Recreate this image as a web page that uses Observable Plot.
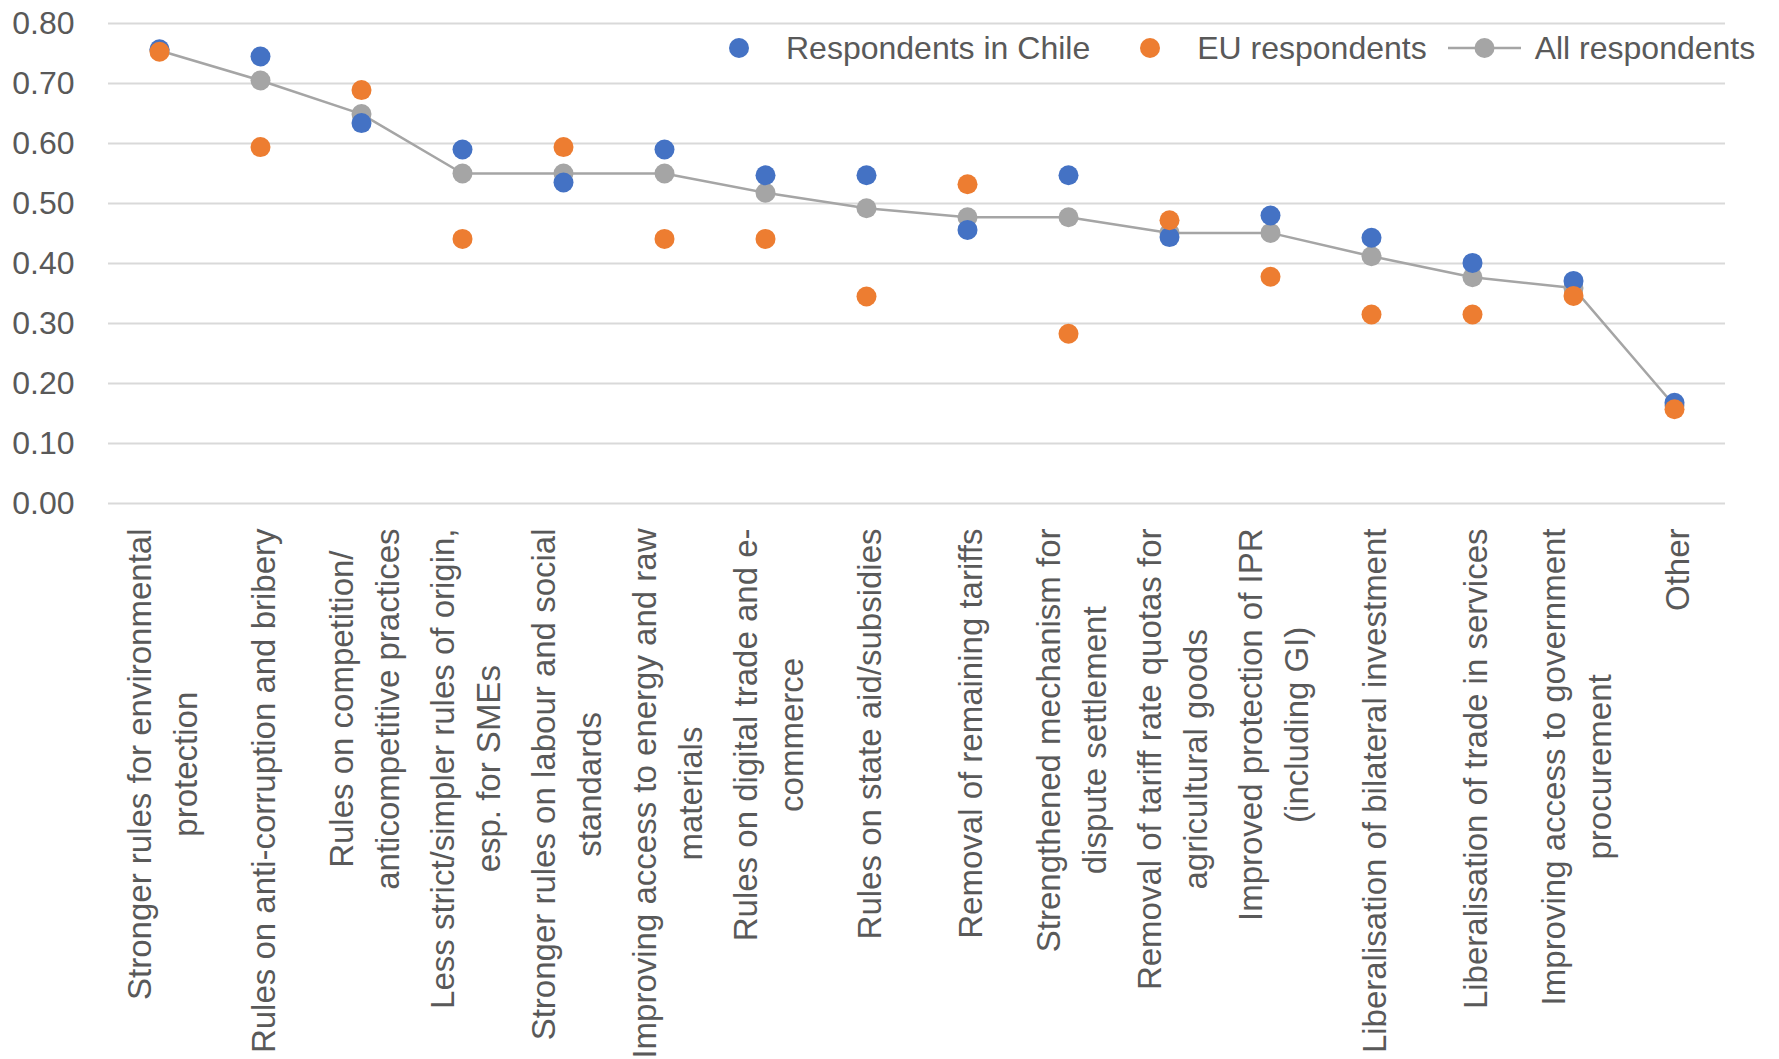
<!DOCTYPE html>
<html><head><meta charset="utf-8">
<script src="https://cdn.jsdelivr.net/npm/d3@7"></script>
<script src="https://cdn.jsdelivr.net/npm/@observablehq/plot@0.6"></script>
<style>
body{margin:0;background:#fff;}
#wrap{position:relative;width:1779px;height:1059px;font-family:"Liberation Sans",Arial,sans-serif;color:#595959;background:#fff;}
#legend{position:absolute;top:28px;left:729px;display:flex;align-items:center;font-size:32px;line-height:40px;white-space:nowrap;}
.ldot{display:inline-block;width:20px;height:20px;border-radius:50%;}
</style></head><body>
<div id="wrap"><div id="chart"></div><div id="legend"></div></div>
<script>
const categories = [
  "Stronger rules for environmental protection",
  "Rules on anti-corruption and bribery",
  "Rules on competition/ anticompetitive practices",
  "Less strict/simpler rules of origin, esp. for SMEs",
  "Stronger rules on labour and social standards",
  "Improving access to energy and raw materials",
  "Rules on digital trade and e-commerce",
  "Rules on state aid/subsidies",
  "Removal of remaining tariffs",
  "Strengthened mechanism for dispute settlement",
  "Removal of tariff rate quotas for agricultural goods",
  "Improved protection of IPR (including GI)",
  "Liberalisation of bilateral investment",
  "Liberalisation of trade in services",
  "Improving access to government procurement",
  "Other"
];
const tickLabels = [
  "Stronger rules for environmental\nprotection",
  "Rules on anti-corruption and bribery",
  "Rules on competition/\nanticompetitive practices",
  "Less strict/simpler rules of origin,\nesp. for SMEs",
  "Stronger rules on labour and social\nstandards",
  "Improving access to energy and raw\nmaterials",
  "Rules on digital trade and e-\ncommerce",
  "Rules on state aid/subsidies",
  "Removal of remaining tariffs",
  "Strengthened mechanism for\ndispute settlement",
  "Removal of tariff rate quotas for\nagricultural goods",
  "Improved protection of IPR\n(including GI)",
  "Liberalisation of bilateral investment",
  "Liberalisation of trade in services",
  "Improving access to government\nprocurement",
  "Other"
];
const chile = [0.757, 0.745, 0.634, 0.590, 0.535, 0.590, 0.547, 0.547, 0.456, 0.547, 0.444, 0.480, 0.443, 0.401, 0.371, 0.168];
const eu    = [0.753, 0.594, 0.689, 0.441, 0.594, 0.441, 0.441, 0.345, 0.532, 0.283, 0.472, 0.378, 0.315, 0.315, 0.346, 0.157];
const all   = [0.755, 0.705, 0.649, 0.550, 0.550, 0.550, 0.518, 0.492, 0.477, 0.477, 0.451, 0.451, 0.412, 0.377, 0.359, 0.163];
const yTicks = [0, 0.1, 0.2, 0.3, 0.4, 0.5, 0.6, 0.7, 0.8];
const seriesNames = ["Respondents in Chile", "EU respondents", "All respondents"];
const colors = ["#4472C4", "#ED7D31", "#A5A5A5"];

const data = categories.map((c, i) => ({c, chile: chile[i], eu: eu[i], all: all[i]}));

const FS = 33;
const ctx = document.createElement("canvas").getContext("2d");
ctx.font = FS + "px 'Liberation Sans'";
const labelMarks = categories.map((c, i) => {
  const lines = tickLabels[i].split("\n");
  const w = Math.max(...lines.map(l => ctx.measureText(l).width));
  return Plot.text([{c, label: tickLabels[i]}], {
    x: "c", text: "label", frameAnchor: "bottom", rotate: -90,
    textAnchor: "middle", lineAnchor: "middle", lineHeight: 1.38,
    fontSize: FS, fill: "#595959", dy: 25 + w / 2
  });
});

const chart = Plot.plot({
  width: 1779, height: 1059,
  marginLeft: 108, marginRight: 54, marginTop: 23, marginBottom: 556,
  style: {fontFamily: "'Liberation Sans', Arial, sans-serif", fontSize: "32px", color: "#595959", background: "#fff"},
  x: {type: "point", domain: categories, padding: 0.45, axis: null},
  y: {domain: [0, 0.8], ticks: yTicks, tickFormat: d3.format(".2f"), tickSize: 0, tickPadding: 34, label: null},
  marks: [
    Plot.ruleY(yTicks, {stroke: "#D9D9D9", strokeWidth: 2}),
    Plot.line(data, {x: "c", y: "all", stroke: colors[2], strokeWidth: 2.5}),
    Plot.dot(data, {x: "c", y: "all", r: 10, fill: colors[2]}),
    Plot.dot(data, {x: "c", y: "chile", r: 10, fill: colors[0]}),
    Plot.dot(data, {x: "c", y: "eu", r: 10, fill: colors[1]}),
    ...labelMarks
  ]
});
document.getElementById("chart").appendChild(chart);

const legend = document.getElementById("legend");
seriesNames.forEach((name, i) => {
  const item = document.createElement("span");
  item.style.display = "flex";
  item.style.alignItems = "center";
  if (i === 1) item.style.marginLeft = "50px";
  if (i === 2) item.style.marginLeft = "21px";
  if (i < 2) {
    const d = document.createElement("span");
    d.className = "ldot";
    d.style.background = colors[i];
    d.style.marginRight = "37px";
    item.appendChild(d);
  } else {
    const ns = "http://www.w3.org/2000/svg";
    const s = document.createElementNS(ns, "svg");
    s.setAttribute("width", 73); s.setAttribute("height", 20);
    s.style.marginRight = "14px";
    const ln = document.createElementNS(ns, "line");
    ln.setAttribute("x1", 0); ln.setAttribute("x2", 73); ln.setAttribute("y1", 10); ln.setAttribute("y2", 10);
    ln.setAttribute("stroke", colors[2]); ln.setAttribute("stroke-width", 2.5);
    const ci = document.createElementNS(ns, "circle");
    ci.setAttribute("cx", 36.5); ci.setAttribute("cy", 10); ci.setAttribute("r", 10); ci.setAttribute("fill", colors[2]);
    s.appendChild(ln); s.appendChild(ci);
    item.appendChild(s);
  }
  const t = document.createElement("span");
  t.textContent = name;
  item.appendChild(t);
  legend.appendChild(item);
});
</script>
</body></html>
